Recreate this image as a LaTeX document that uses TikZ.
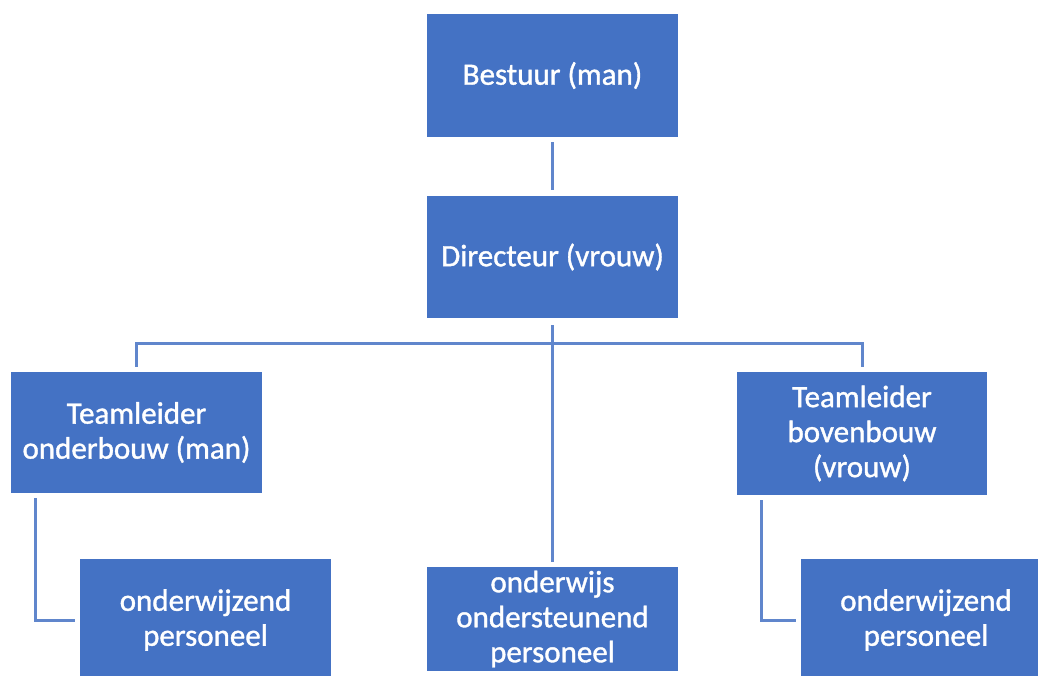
\documentclass[tikz,border=0pt]{standalone}
\usepackage{fontspec}
\setmainfont{Carlito}
\newfontfamily\boxfont{Carlito}[FakeBold=1.2]
\usepackage{tikz}

\definecolor{boxblue}{RGB}{68,114,196}
\definecolor{lineblue}{RGB}{96,134,204}

\begin{document}
\begin{tikzpicture}[x=1pt, y=-1pt,
        box/.style={rectangle, fill=boxblue, text=white, align=center, inner sep=0pt,
                minimum width=251pt, minimum height=122pt, font=\boxfont\fontsize{31}{35}\selectfont},
        link/.style={lineblue, line width=3pt}]
        \useasboundingbox (0,0) rectangle (1038,675);
        \clip (0,0) rectangle (1038,675);
        % bovenste lagen
        \node[box, minimum height=123pt] (bestuur) at (552.5,75.5) {Bestuur (man)};
        \node[box] (directeur) at (552.5,257) {Directeur (vrouw)};
        % teamleiders
        \node[box, minimum height=121pt] (tlo) at (136.5,432.5) {Teamleider\\onderbouw (man)};
        \node[box, minimum width=250pt, minimum height=123pt] (tlb) at (862,433.5) {Teamleider\\bovenbouw\\(vrouw)};
        % personeel
        \node[box] (owl) at (205.5,620) {onderwijzend\\personeel};
        \node[box, minimum height=104pt] (oop) at (552.5,619) {onderwijs\\ondersteunend\\personeel};
        \node[box, minimum width=250pt] (owr) at (926,620) {onderwijzend\\personeel};
        \coordinate (bus) at (552.5,343);
        % lijnen
        \draw [link, shorten <=5pt, shorten >=6pt] (bestuur) -- (directeur);
        \draw [link, shorten <=7pt, shorten >=5pt] (directeur) -- (oop);
        \draw [link, shorten <=5pt, shorten >=5pt] (tlo.north) |- (bus) -| (tlb.north);
        \draw [link, shorten >=5pt] ([xshift=25pt,yshift=-5pt]tlo.south west) |- (owl.west);
        \draw [link, shorten >=5pt] ([xshift=25pt,yshift=-5pt]tlb.south west) |- (owr.west);
\end{tikzpicture}
\end{document}
